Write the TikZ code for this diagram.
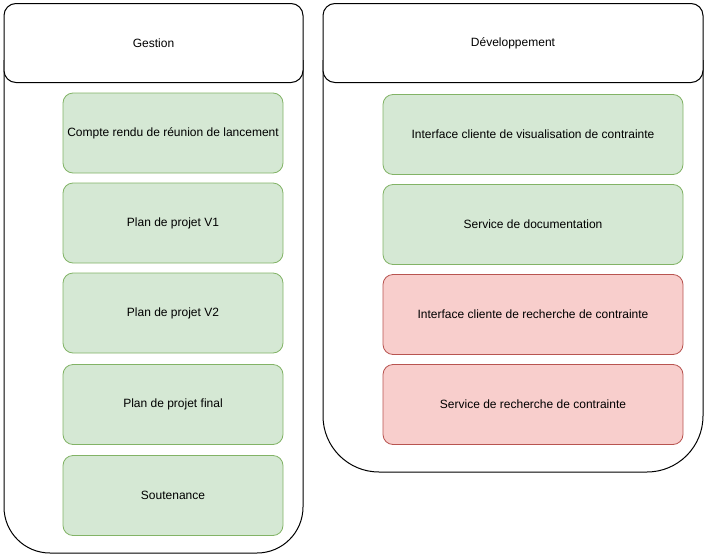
\documentclass[tikz,border=0pt]{standalone}
\usepackage{fontspec}
\setmainfont{Liberation Sans}
\usepackage{tikz}

\definecolor{okfill}{HTML}{D5E8D4}
\definecolor{okline}{HTML}{82B366}
\definecolor{kofill}{HTML}{F8CECC}
\definecolor{koline}{HTML}{B85450}

\tikzset{
    lanehead/.style={draw=black, fill=white, rounded corners=12pt, line width=1pt, inner sep=0pt},
    livrable/.style={rounded corners=10pt, line width=0.8pt, inner sep=0pt, minimum height=80pt, font=\fontsize{12}{14}\selectfont},
    fait/.style={livrable, draw=okline, fill=okfill},
    afaire/.style={livrable, draw=koline, fill=kofill}
}

\begin{document}
\begin{tikzpicture}[x=1pt, y=-1pt]
            \useasboundingbox (0, 0) rectangle (707, 557);

            % couloirs
            \draw[line width=1pt, rounded corners=46pt] (4, 60) -- (4, 553) -- (303, 553) -- (303, 60);
            \draw[line width=1pt, rounded corners=56pt] (323, 60) -- (323, 472) -- (703, 472) -- (703, 60);

            \node[lanehead, minimum width=299pt, minimum height=79pt, font=\fontsize{12}{14}\selectfont] (gestion) at (153.5, 43) {Gestion};
            \node[lanehead, minimum width=380pt, minimum height=79pt, font=\fontsize{12}{14}\selectfont] (dev) at (513, 43) {Développement};

            % gestion
            \node[fait, minimum width=220pt] (cr) at (173, 133) {Compte rendu de réunion de lancement};
            \node[fait, minimum width=220pt] (planA) at (173, 223) {Plan de projet V1};
            \node[fait, minimum width=220pt] (planB) at (173, 313) {Plan de projet V2};
            \node[fait, minimum width=220pt] (planF) at (173, 404.5) {Plan de projet final};
            \node[fait, minimum width=220pt] (soutenance) at (173, 495.5) {Soutenance};

            % developpement
            \node[fait, minimum width=300pt] (visu) at (533, 134.5) {Interface cliente de visualisation de contrainte};
            \node[fait, minimum width=300pt] (doc) at (533, 224.5) {Service de documentation};
            \node[afaire, minimum width=300pt] (ihmRech) at (533, 314.5) {Interface cliente de recherche de contrainte};
            \node[afaire, minimum width=300pt] (servRech) at (533, 404.5) {Service de recherche de contrainte};
        \end{tikzpicture}
\end{document}
